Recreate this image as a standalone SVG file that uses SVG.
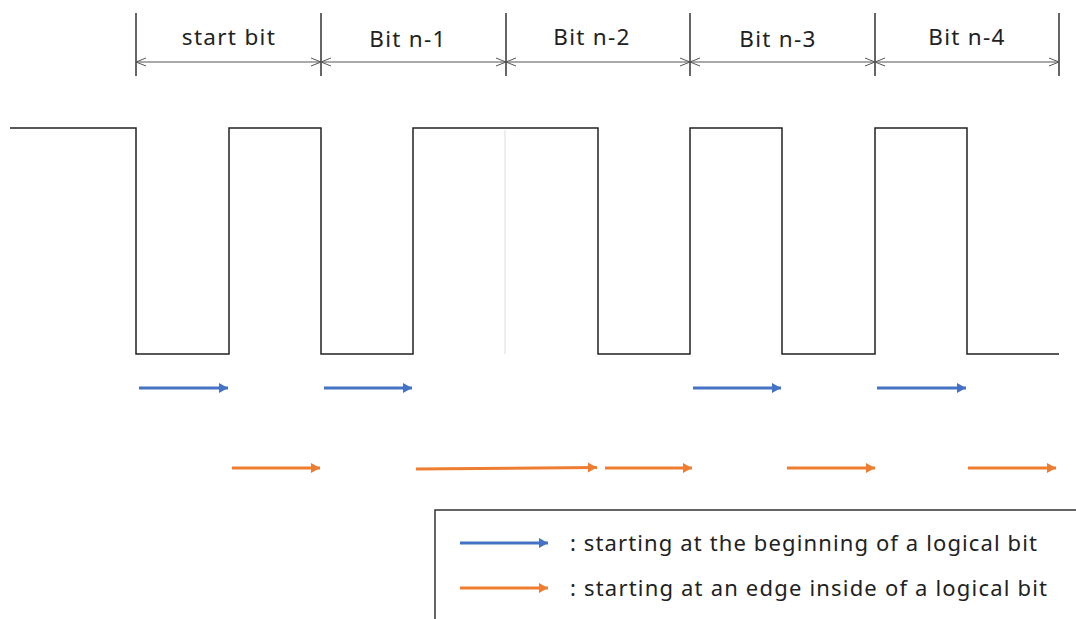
<svg xmlns="http://www.w3.org/2000/svg" width="1076" height="619" viewBox="0 0 1076 619">
<defs>
<marker id="dimE" markerWidth="12" markerHeight="10" refX="10" refY="5" orient="auto" markerUnits="userSpaceOnUse"><path d="M0,1 L10,5 L0,9" fill="none" stroke="#555" stroke-width="1"/></marker>
<marker id="dimS" markerWidth="12" markerHeight="10" refX="0" refY="5" orient="auto" markerUnits="userSpaceOnUse"><path d="M10,1 L0,5 L10,9" fill="none" stroke="#555" stroke-width="1"/></marker>
<marker id="ab" markerWidth="10" markerHeight="11" refX="9" refY="5.5" orient="auto" markerUnits="userSpaceOnUse"><path d="M0,0.5 L9,5.5 L0,10.5 Z" fill="#4472C4"/></marker>
<marker id="ao" markerWidth="10" markerHeight="11" refX="9" refY="5.5" orient="auto" markerUnits="userSpaceOnUse"><path d="M0,0.5 L9,5.5 L0,10.5 Z" fill="#ED7D31"/></marker>
</defs>
<style>
.tick{stroke:#333;stroke-width:1.5}
.dim{stroke:#555;stroke-width:1;fill:none;marker-start:url(#dimS);marker-end:url(#dimE)}
.lbl{font-family:"Noto Sans","Liberation Sans",sans-serif;font-size:22.5px;fill:#222;text-anchor:middle;letter-spacing:1.3px}
.wave{fill:none;stroke:#222;stroke-width:1.5}
.blue{stroke:#4472C4;stroke-width:3;fill:none;marker-end:url(#ab)}
.orange{stroke:#ED7D31;stroke-width:3;fill:none;marker-end:url(#ao)}
.leg{font-family:"Noto Sans","Liberation Sans",sans-serif;font-size:22px;fill:#222}
</style>
<rect width="1076" height="619" fill="#fff"/>
<g id="dimension">
<line class="tick" x1="136" y1="13" x2="136" y2="76"/>
<line class="tick" x1="321" y1="13" x2="321" y2="76"/>
<line class="tick" x1="506" y1="13" x2="506" y2="76"/>
<line class="tick" x1="690" y1="13" x2="690" y2="76"/>
<line class="tick" x1="875" y1="13" x2="875" y2="76"/>
<line class="tick" x1="1059" y1="13" x2="1059" y2="76"/>
<line class="dim" x1="136" y1="62" x2="321" y2="62"/>
<line class="dim" x1="321" y1="62" x2="506" y2="62"/>
<line class="dim" x1="506" y1="62" x2="690" y2="62"/>
<line class="dim" x1="690" y1="62" x2="875" y2="62"/>
<line class="dim" x1="875" y1="62" x2="1059" y2="62"/>
</g>
<g id="labels">
<text class="lbl" x="229" y="45">start bit</text>
<text class="lbl" x="408" y="47">Bit n-1</text>
<text class="lbl" x="592" y="45">Bit n-2</text>
<text class="lbl" x="778" y="47">Bit n-3</text>
<text class="lbl" x="967" y="45">Bit n-4</text>
</g>
<g id="waveform">
<line x1="505" y1="130" x2="505" y2="354" stroke="#ddd" stroke-width="1"/>
<path class="wave" d="M10,128 H136 V354 H229 V128 H321 V354 H413 V128 H598 V354 H690 V128 H782 V354 H875 V128 H967 V354 H1059"/>
</g>
<g id="connectors">
<line class="blue" x1="139" y1="388" x2="228" y2="388"/>
<line class="blue" x1="324" y1="388" x2="412" y2="388"/>
<line class="blue" x1="693" y1="388" x2="781" y2="388"/>
<line class="blue" x1="877" y1="388" x2="966" y2="388"/>
<line class="orange" x1="232" y1="468" x2="320" y2="468"/>
<line class="orange" x1="416" y1="469" x2="597" y2="467.5"/>
<line class="orange" x1="605" y1="468" x2="692" y2="468"/>
<line class="orange" x1="787" y1="468" x2="875" y2="468"/>
<line class="orange" x1="968" y1="468" x2="1056" y2="468"/>
</g>
<g id="legend">
<rect x="435" y="510" width="660" height="130" fill="none" stroke="#333" stroke-width="1.5"/>
<line class="blue" x1="460" y1="543" x2="548" y2="543"/>
<line class="orange" x1="460" y1="588" x2="548" y2="588"/>
<text class="leg" x="570" y="551" textLength="467" lengthAdjust="spacing">: starting at the beginning of a logical bit</text>
<text class="leg" x="570" y="596" textLength="477" lengthAdjust="spacing">: starting at an edge inside of a logical bit</text>
</g>
</svg>
